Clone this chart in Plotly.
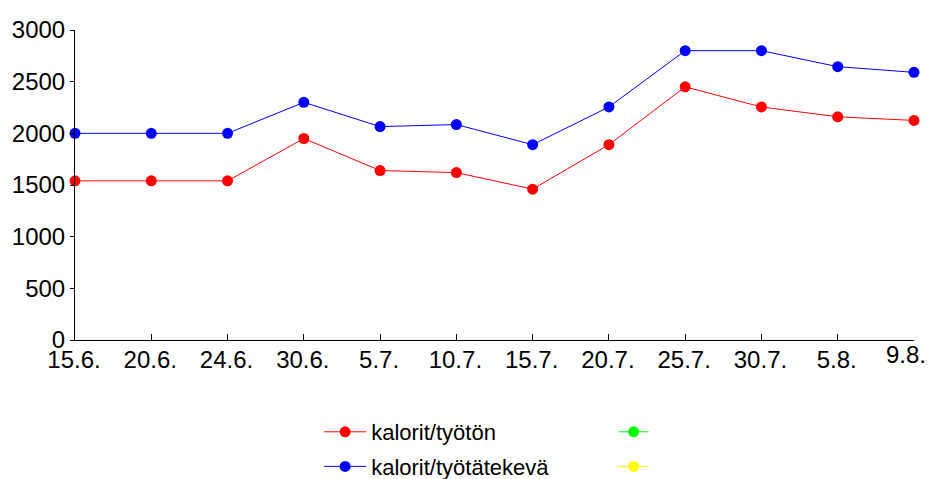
import plotly.graph_objects as go

dates = ["15.6.", "20.6.", "24.6.", "30.6.", "5.7.", "10.7.", "15.7.", "20.7.", "25.7.", "30.7.", "5.8.", "9.8."]
tyoton = [1540, 1540, 1540, 1950, 1640, 1620, 1460, 1890, 2450, 2255, 2160, 2125]
tyotatekeva = [2000, 2000, 2000, 2300, 2065, 2085, 1890, 2255, 2800, 2800, 2645, 2590]
y_ticks = [0, 500, 1000, 1500, 2000, 2500, 3000]

FONT = "Liberation Sans, Arial, sans-serif"
idx = list(range(len(dates)))
x_range = [0, len(dates) - 1]

fig = go.Figure()
fig.add_trace(go.Scatter(x=idx, y=tyoton, mode="lines+markers", name="kalorit/työtön",
                         line=dict(color="#ff0000", width=1), marker=dict(color="#ff0000", size=11),
                         cliponaxis=False, legend="legend", legendgroup="a"))
# second series uses the overlaid (identical-range) x axis that carries the last date label
fig.add_trace(go.Scatter(x=idx, y=tyotatekeva, mode="lines+markers", name="kalorit/työtätekevä",
                         line=dict(color="#0000ff", width=1), marker=dict(color="#0000ff", size=11),
                         cliponaxis=False, legend="legend", legendgroup="b",
                         xaxis="x2", yaxis="y"))
fig.add_trace(go.Scatter(x=[None], y=[None], mode="lines+markers", name=" ",
                         line=dict(color="#00ff00", width=1), marker=dict(color="#00ff00", size=11),
                         legend="legend2", legendgroup="c"))
fig.add_trace(go.Scatter(x=[None], y=[None], mode="lines+markers", name="  ",
                         line=dict(color="#ffff00", width=1), marker=dict(color="#ffff00", size=11),
                         legend="legend2", legendgroup="d"))

main_text = dates[:-1] + [""]

# page body has an 8px margin, so the figure is sized/positioned to compensate
fig.update_layout(
    width=926, height=471,
    margin=dict(l=67, r=20, t=22, b=139, autoexpand=False),
    plot_bgcolor="white", paper_bgcolor="white",
    font=dict(family=FONT, size=24, color="black"),
    showlegend=True,
    legend=dict(x=0.291, y=-0.229, xanchor="left", yanchor="top", orientation="v",
                font=dict(family=FONT, size=22), bgcolor="rgba(0,0,0,0)", tracegroupgap=3,
                itemwidth=42),
    legend2=dict(x=0.642, y=-0.229, xanchor="left", yanchor="top", orientation="v",
                 font=dict(family=FONT, size=22), bgcolor="rgba(0,0,0,0)", tracegroupgap=3),
    xaxis=dict(
        range=x_range, tickvals=idx, ticktext=main_text,
        showline=True, linecolor="black", linewidth=1,
        ticks="inside", ticklen=6, tickcolor="black",
        showgrid=False, zeroline=False, automargin=False,
        tickfont=dict(family=FONT, size=24, color="black"), ticklabelstandoff=-2,
        ticklabelshift=-1, ticklabeloverflow="allow",
    ),
    xaxis2=dict(
        overlaying="x", anchor="y", side="bottom",
        range=x_range, tickvals=[idx[-1]], ticktext=[dates[-1]],
        showline=False, ticks="inside", ticklen=6, tickcolor="rgba(0,0,0,0)",
        showgrid=False, zeroline=False, automargin=False,
        tickfont=dict(family=FONT, size=24, color="black"), ticklabelstandoff=-2,
        ticklabelshift=-8, ticklabeloverflow="allow",
    ),
    yaxis=dict(
        range=[0, 3000], tickvals=y_ticks,
        showline=True, linecolor="black", linewidth=1,
        ticks="outside", ticklen=4, tickcolor="black",
        showgrid=False, zeroline=False, automargin=False,
        tickfont=dict(family=FONT, size=24, color="black"), ticklabelstandoff=0,
        ticklabeloverflow="allow",
    ),
)

fig.write_html("out.html")
